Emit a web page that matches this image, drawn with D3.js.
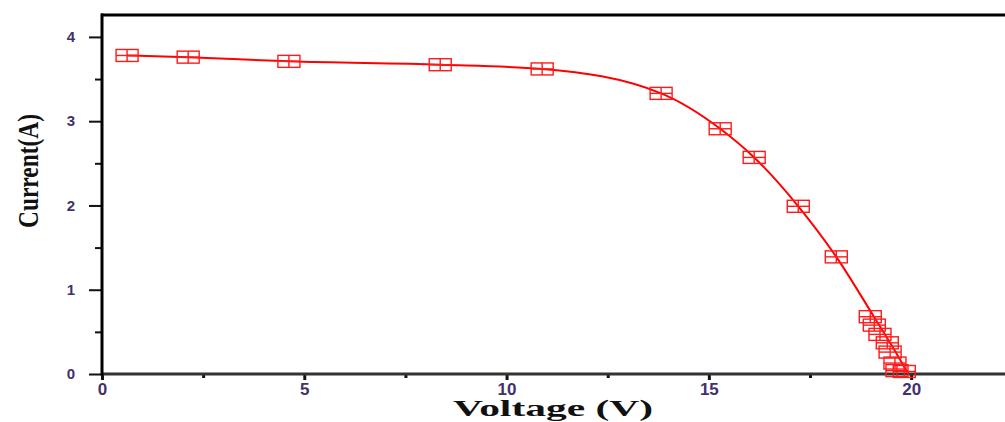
<!DOCTYPE html>
<html>
<head>
<meta charset="utf-8">
<script src="https://cdn.jsdelivr.net/npm/d3@7"></script>
<style>
  html, body { margin: 0; padding: 0; background: #fff; }
  svg { display: block; }
</style>
</head>
<body>
<svg id="chart" width="1005" height="422"></svg>
<script>
// Measured data points (markers)
const voltage = [0.62, 2.13, 4.62, 8.36, 10.88, 13.82, 15.28, 16.12, 17.21, 18.15, 18.99, 19.09, 19.23, 19.41, 19.48, 19.60, 19.65, 19.83];
const current = [3.78, 3.76, 3.71, 3.67, 3.62, 3.33, 2.91, 2.57, 1.99, 1.39, 0.68, 0.58, 0.47, 0.37, 0.26, 0.13, 0.04, 0.03];

// Fitted curve
const fitVoltage = [0.62, 2.13, 4.62, 8.36, 10.88, 13.82, 15.28, 16.12, 17.21, 18.15, 19.08, 19.48, 19.93];
const fitCurrent = [3.78, 3.76, 3.71, 3.67, 3.62, 3.33, 2.91, 2.57, 1.99, 1.39, 0.68, 0.37, 0.00];

const xTicks = [0, 5, 10, 15, 20];
const xMinorTicks = [2.5, 7.5, 12.5, 17.5];
const yTicks = [0, 1, 2, 3, 4];
const yMinorTicks = [0.5, 1.5, 2.5, 3.5];
const xTitle = "Voltage (V)";
const yTitle = "Current(A)";

const svg = d3.select("#chart");
const W = 1005, H = 422;
const m = { left: 102, right: 0, top: 15, bottom: 48 };

const x = d3.scaleLinear().domain([0, 22.32]).range([m.left, W - m.right]);
const y = d3.scaleLinear().domain([0, 4.26]).range([H - m.bottom, m.top]);

const labelColor = "#43306e";

// Minor x ticks
svg.append("g")
  .attr("transform", `translate(0,${y(0)})`)
  .call(d3.axisBottom(x).tickValues(xMinorTicks).tickSize(4).tickFormat(""))
  .call(g => g.select(".domain").remove())
  .call(g => g.selectAll("line").attr("stroke", "#111").attr("stroke-width", 3));

// Major x ticks
const gx = svg.append("g")
  .attr("transform", `translate(0,${y(0)})`)
  .call(d3.axisBottom(x).tickValues(xTicks).tickSize(6).tickPadding(3).tickFormat(d3.format("d")));
gx.select(".domain").remove();
gx.selectAll("line").attr("stroke", "#111").attr("stroke-width", 3);
gx.selectAll("text").attr("fill", labelColor).attr("font-family", "Liberation Sans, Arial, sans-serif")
  .attr("font-size", 17).attr("font-weight", "bold").attr("dy", "0.72em");

// Minor y ticks
svg.append("g")
  .attr("transform", `translate(${x(0)},0)`)
  .call(d3.axisLeft(y).tickValues(yMinorTicks).tickSize(7).tickFormat(""))
  .call(g => g.select(".domain").remove())
  .call(g => g.selectAll("line").attr("stroke", "#111").attr("stroke-width", 2));

// Major y ticks
const gy = svg.append("g")
  .attr("transform", `translate(${x(0)},0)`)
  .call(d3.axisLeft(y).tickValues(yTicks).tickSize(13).tickPadding(14).tickFormat(d3.format("d")));
gy.select(".domain").remove();
gy.selectAll("line").attr("stroke", "#111").attr("stroke-width", 2);
gy.selectAll("text").attr("fill", labelColor).attr("font-family", "Liberation Sans, Arial, sans-serif")
  .attr("font-size", 15).attr("font-weight", "bold");

// Frame lines
svg.append("line")
  .attr("x1", x(0)).attr("x2", W).attr("y1", y(0)).attr("y2", y(0))
  .attr("stroke", "#333").attr("stroke-width", 3);
svg.append("line")
  .attr("x1", x(0) - 1).attr("x2", W).attr("y1", m.top).attr("y2", m.top)
  .attr("stroke", "#000").attr("stroke-width", 3);
svg.append("line")
  .attr("x1", x(0)).attr("x2", x(0)).attr("y1", m.top - 1.5).attr("y2", y(0) + 1.5)
  .attr("stroke", "#000").attr("stroke-width", 3);

// Fit line
const fitData = fitVoltage.map((v, i) => ({ v, c: fitCurrent[i] }));
svg.append("path")
  .datum(fitData)
  .attr("fill", "none")
  .attr("stroke", "#ff0000")
  .attr("stroke-width", 2)
  .attr("d", d3.line().x(d => x(d.v)).y(d => y(d.c)).curve(d3.curveMonotoneX));

// Markers: boxed cross
const pts = voltage.map((v, i) => ({ v, c: current[i] }));
const mw = 22, mh = 12;
const mk = svg.append("g").attr("fill", "none").attr("stroke", "#ff1a1a").attr("stroke-width", 1.4);
const g = mk.selectAll("g").data(pts).join("g")
  .attr("transform", d => `translate(${x(d.v)},${y(d.c)})`);
g.append("rect").attr("x", -mw / 2).attr("y", -mh / 2).attr("width", mw).attr("height", mh);
g.append("line").attr("x1", 0).attr("x2", 0).attr("y1", -mh / 2).attr("y2", mh / 2);
g.append("line").attr("x1", -mw / 2).attr("x2", mw / 2).attr("y1", 0).attr("y2", 0);

// Axis titles
svg.append("text")
  .attr("x", 453).attr("y", 416)
  .attr("font-family", "Liberation Serif, Times New Roman, serif")
  .attr("font-weight", "bold").attr("font-size", 24).attr("fill", "#111")
  .attr("textLength", 200).attr("lengthAdjust", "spacingAndGlyphs")
  .text(xTitle);

svg.append("text")
  .attr("transform", "translate(38,228) rotate(-90)")
  .attr("font-family", "Liberation Serif, Times New Roman, serif")
  .attr("font-weight", "bold").attr("font-size", 30).attr("fill", "#111")
  .attr("textLength", 114).attr("lengthAdjust", "spacingAndGlyphs")
  .text(yTitle);
</script>
</body>
</html>
